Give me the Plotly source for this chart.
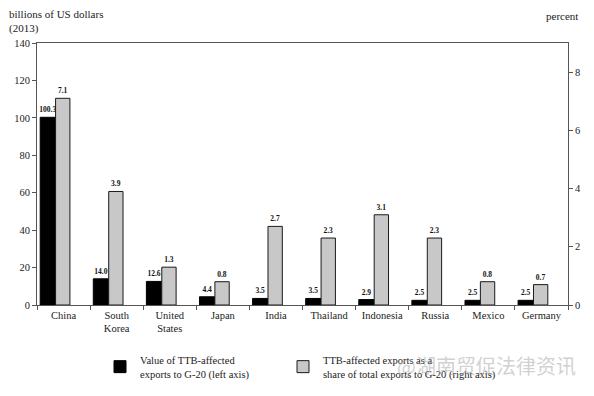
import plotly.graph_objects as go

categories = ["China", "South<br>Korea", "United<br>States", "Japan", "India",
              "Thailand", "Indonesia", "Russia", "Mexico", "Germany"]
value_billions = [100.3, 14.0, 12.6, 4.4, 3.5, 3.5, 2.9, 2.5, 2.5, 2.5]
share_percent = [7.1, 3.9, 1.3, 0.8, 2.7, 2.3, 3.1, 2.3, 0.8, 0.7]
left_ticks = [0, 20, 40, 60, 80, 100, 120, 140]
right_ticks = [0, 2, 4, 6, 8]

SERIF = "Liberation Serif, Times New Roman, serif"
fig = go.Figure()
fig.add_bar(
    x=categories, y=value_billions, yaxis="y", legend="legend",
    name="Value of TTB-affected<br>exports to G-20 (left axis)",
    marker=dict(color="#000000", line=dict(color="#000000", width=1)),
    width=0.29, offset=-0.44,
    texttemplate="<b>%{y:.1f}</b>", textposition="outside",
    textfont=dict(family=SERIF, size=7.5, color="#111111"),
    constraintext="none", cliponaxis=False,
)
fig.add_bar(
    x=categories, y=share_percent, yaxis="y2", legend="legend2",
    name="TTB-affected exports as a<br>share of total exports to G-20 (right axis)",
    marker=dict(color="#c8c8c8", line=dict(color="#1a1a1a", width=1)),
    width=0.27, offset=-0.15,
    texttemplate="<b>%{y:.1f}</b>", textposition="outside",
    textfont=dict(family=SERIF, size=7.5, color="#111111"),
    constraintext="none", cliponaxis=False,
)

axis_common = dict(showline=True, linecolor="#555", linewidth=1, ticks="outside",
                   ticklen=4, tickcolor="#555", showgrid=False, zeroline=False,
                   automargin=False,
                   tickfont=dict(family=SERIF, size=10.5, color="#222"))

legend_common = dict(orientation="v", xref="container", yref="container",
                     y=0.125, xanchor="left", yanchor="top",
                     font=dict(family=SERIF, size=10.5, color="#222"),
                     bgcolor="rgba(0,0,0,0)")

fig.update_layout(
    width=594, height=396,
    margin=dict(l=37, r=26, t=43, b=91, autoexpand=False),
    paper_bgcolor="white", plot_bgcolor="white",
    barmode="overlay",
    showlegend=True,
    font=dict(family=SERIF, size=10.5, color="#222"),
    xaxis=dict(type="category", tickson="boundaries", mirror=True, **axis_common),
    yaxis=dict(range=[0, 140], tickvals=left_ticks, **axis_common),
    yaxis2=dict(range=[0, 9], tickvals=right_ticks, overlaying="y", side="right", **axis_common),
    legend=dict(x=100 / 594, **legend_common),
    legend2=dict(x=283 / 594, **legend_common),
    annotations=[
        dict(text="billions of US dollars<br>(2013)", xref="paper", yref="paper",
             x=-30/531, y=1 + 37/262, xanchor="left", yanchor="top", align="left",
             showarrow=False, font=dict(family=SERIF, size=11, color="#222")),
        dict(text="percent", xref="paper", yref="paper",
             x=1 + 12/531, y=1 + 35/262, xanchor="right", yanchor="top",
             showarrow=False, font=dict(family=SERIF, size=11, color="#222")),
        dict(text="@湖南贸促法律资讯", xref="paper", yref="paper",
             x=(395 - 37) / 531, y=-(366 - 305) / 262, xanchor="left", yanchor="middle",
             showarrow=False,
             font=dict(family="Noto Sans CJK SC", size=20, color="rgba(170,170,170,0.55)")),
    ],
)

fig.write_html("out.html", config={"displayModeBar": False},
               post_script="document.body.style.margin='0';")
